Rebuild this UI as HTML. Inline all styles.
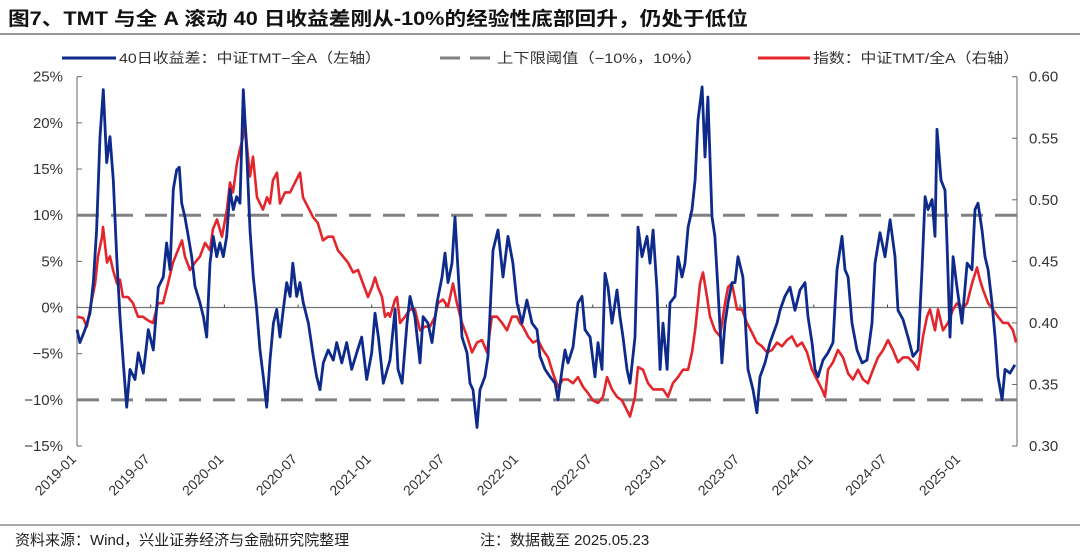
<!DOCTYPE html>
<html><head><meta charset="utf-8"><style>
html,body{margin:0;padding:0;background:#fff;}
body{width:1080px;height:549px;overflow:hidden;font-family:"Liberation Sans","Noto Sans CJK SC",sans-serif;}
</style></head><body>
<svg id="chart" width="1080" height="549" viewBox="0 0 1080 549" xmlns="http://www.w3.org/2000/svg" font-family="Liberation Sans, Noto Sans CJK SC, sans-serif">
<text x="8" y="25" font-size="19" font-weight="bold" fill="#111" textLength="740" lengthAdjust="spacingAndGlyphs">图7、TMT 与全 A 滚动 40 日收益差刚从-10%的经验性底部回升，仍处于低位</text>
<line x1="0" y1="34" x2="1080" y2="34" stroke="#777" stroke-width="1.5"/>
<g font-size="14" fill="#333">
<line x1="62" y1="58" x2="116" y2="58" stroke="#0e2b8c" stroke-width="3"/>
<text x="119" y="63" textLength="262" lengthAdjust="spacingAndGlyphs">40日收益差：中证TMT−全A（左轴）</text>
<line x1="440" y1="58" x2="494" y2="58" stroke="#808080" stroke-width="3" stroke-dasharray="20,10"/>
<text x="497" y="63" textLength="205" lengthAdjust="spacingAndGlyphs">上下限阈值（−10%，10%）</text>
<line x1="758" y1="58" x2="810" y2="58" stroke="#e3262b" stroke-width="3"/>
<text x="813" y="63" textLength="206" lengthAdjust="spacingAndGlyphs">指数：中证TMT/全A（右轴）</text>
</g>
<g id="plot"></g>
<line x1="0" y1="525" x2="1080" y2="525" stroke="#555" stroke-width="1"/>
<text x="15" y="545" font-size="15" fill="#222">资料来源：Wind，兴业证券经济与金融研究院整理</text>
<text x="480" y="545" font-size="15" fill="#222">注：数据截至 2025.05.23</text>
</svg>
<script>
// months since 2019-01-01 and values
const blueMonths=[0,0.24,0.65,1.06,1.33,1.6,1.87,2.14,2.42,2.69,2.96,3.23,3.5,3.77,4.05,4.32,4.72,4.99,5.4,5.81,6.21,6.62,7.03,7.3,7.57,7.84,8.12,8.33,8.53,8.79,9.06,9.34,9.61,10.02,10.29,10.56,10.83,11.1,11.38,11.64,11.91,12.19,12.46,12.73,13.0,13.27,13.54,13.82,14.09,14.36,14.63,14.9,15.17,15.45,15.72,15.99,16.26,16.53,16.8,17.08,17.35,17.57,17.89,18.16,18.43,18.84,19.24,19.52,19.79,20.06,20.46,20.87,21.15,21.56,21.96,22.37,22.78,23.18,23.59,24.0,24.27,24.54,24.94,25.49,25.9,26.14,26.47,26.87,27.12,27.52,27.93,28.18,28.58,28.91,29.32,29.72,29.97,30.21,30.54,30.78,31.03,31.35,31.76,32.0,32.25,32.57,32.82,33.22,33.47,33.88,34.28,34.69,35.1,35.5,35.83,36.24,36.64,37.05,37.46,37.7,38.11,38.52,38.93,39.17,39.5,39.74,39.98,40.39,40.8,41.12,41.37,41.78,42.18,42.43,42.75,43.0,43.24,43.57,43.97,44.22,44.46,44.79,45.03,45.44,45.68,46.01,46.42,46.66,46.91,47.23,47.48,47.72,48.05,48.29,48.7,48.94,49.27,49.51,49.76,50.08,50.33,50.57,50.9,51.14,51.38,51.71,51.95,52.2,52.52,52.77,53.01,53.34,53.58,53.83,54.23,54.64,55.05,55.37,55.62,56.03,56.43,57.0,57.25,57.65,58.06,58.47,58.88,59.28,59.53,59.85,60.1,60.34,60.75,61.16,61.56,61.89,62.3,62.54,62.79,63.11,63.52,63.93,64.33,64.74,64.98,65.39,65.8,66.21,66.61,66.86,67.26,67.67,68.08,68.49,68.81,69.06,69.3,69.63,69.87,70.03,70.36,70.68,70.85,71.09,71.34,71.66,72.07,72.48,72.88,73.13,73.37,73.7,73.94,74.19,74.51,74.76,75.0,75.33,75.57,75.98,76.38];
const blueValues=[-2.4,-3.8,-2.4,-0.6,2.7,8.4,18.5,23.6,15.7,18.5,13.8,5.5,-1.0,-6.0,-10.8,-6.7,-7.8,-4.9,-7.1,-2.4,-4.6,2.2,3.3,7.0,4.1,12.8,14.9,15.2,11.3,9.8,7.7,5.5,2.3,0.5,-1.0,-3.2,4.8,7.7,5.5,7.0,5.5,7.7,12.8,10.6,12.0,11.3,23.6,16.8,8.4,3.3,-0.2,-4.6,-7.5,-10.8,-5.7,-1.7,-0.2,-3.2,-0.2,2.7,1.2,4.8,1.2,2.7,0.5,-1.7,-5.3,-7.5,-8.9,-6.0,-4.6,-5.7,-3.8,-6.0,-3.8,-6.7,-4.9,-3.2,-7.8,-4.9,-0.6,-3.2,-8.2,-5.7,-0.2,-6.7,-8.2,-1.7,1.2,-1.0,-6.0,-1.0,-1.7,-3.8,0.5,3.3,5.9,2.7,4.8,9.8,4.1,-3.2,-4.9,-8.2,-8.9,-13.0,-8.9,-7.5,-5.3,6.2,8.4,3.3,7.7,4.8,0.5,-1.7,0.8,-1.7,-2.4,-5.3,-6.7,-7.5,-8.2,-10.0,-6.7,-4.6,-6.0,-4.3,0.5,1.2,-2.4,-3.2,-7.5,-3.8,-6.7,3.7,2.2,-1.7,1.9,-1.0,-3.2,-6.7,-8.2,-3.2,8.7,5.5,7.7,4.8,8.4,1.9,-6.7,-1.7,-6.7,0.5,1.2,5.5,3.3,4.8,8.7,10.6,13.8,20.3,23.9,16.3,22.8,9.8,7.7,1.9,-6.0,-1.7,0.5,2.7,2.7,5.5,3.3,-6.7,-8.9,-11.4,-7.5,-6.0,-3.8,-1.7,-0.3,1.2,2.2,-0.3,1.9,2.7,-1.0,-3.8,-6.7,-7.5,-5.7,-4.9,-3.8,4.1,7.7,4.1,3.3,-1.7,-4.6,-6.0,-5.7,-1.7,4.8,8.1,5.5,9.5,5.5,-0.3,-1.3,-3.2,-5.3,-4.6,4.1,12.0,10.6,11.7,7.7,19.3,13.8,12.7,7.0,-3.2,5.5,2.2,-1.7,4.8,4.1,10.6,11.3,8.4,5.5,4.1,0.5,-3.2,-7.5,-10.0,-6.7,-7.1,-6.2];
const redMonths=[0,0.49,0.81,1.06,1.47,1.71,2.04,2.12,2.44,2.69,2.93,3.26,3.5,3.75,4.15,4.56,4.97,5.37,5.78,6.19,6.6,7.0,7.41,7.82,8.22,8.55,8.79,9.2,9.61,10.02,10.42,10.83,11.07,11.4,11.81,12.21,12.46,12.7,13.03,13.27,13.52,13.6,13.84,14.09,14.33,14.66,14.9,15.15,15.47,15.72,15.96,16.29,16.53,16.94,17.35,17.75,18.16,18.4,18.81,19.22,19.62,20.03,20.44,20.85,21.25,21.66,22.07,22.48,22.88,23.29,23.7,24.02,24.27,24.51,24.84,25.08,25.33,25.49,25.9,26.06,26.3,26.71,27.12,27.52,27.93,28.34,28.75,29.15,29.4,29.8,30.21,30.62,30.94,31.35,31.76,32.17,32.57,32.98,33.39,33.79,34.2,34.61,35.02,35.42,35.83,36.07,36.32,36.73,37.13,37.54,37.95,38.36,38.76,39.17,39.58,39.98,40.39,40.8,41.21,41.61,42.02,42.43,42.83,43.16,43.57,43.97,44.38,44.79,45.03,45.44,45.68,46.09,46.5,46.91,47.31,47.72,48.13,48.53,48.94,49.35,49.76,50.08,50.33,50.57,50.73,50.98,51.3,51.55,51.95,52.36,52.77,53.01,53.34,53.75,54.15,54.56,54.97,55.37,55.78,56.19,56.6,57.0,57.41,57.82,58.22,58.63,59.04,59.45,59.85,60.26,60.67,60.91,61.16,61.56,61.97,62.38,62.79,63.19,63.6,64.01,64.41,64.82,65.23,65.64,66.04,66.45,66.86,67.26,67.67,68.08,68.49,68.89,69.22,69.46,69.87,70.11,70.52,70.93,71.34,71.66,72.07,72.48,72.88,73.29,73.53,73.78,74.19,74.59,75.0,75.41,75.81,76.22,76.47];
const redValues=[0.405,0.404,0.397,0.411,0.432,0.454,0.470,0.478,0.449,0.454,0.443,0.432,0.435,0.421,0.421,0.416,0.405,0.405,0.402,0.400,0.416,0.416,0.432,0.449,0.459,0.467,0.454,0.443,0.449,0.454,0.465,0.459,0.476,0.484,0.470,0.492,0.514,0.506,0.530,0.541,0.551,0.575,0.543,0.519,0.535,0.502,0.497,0.492,0.502,0.497,0.516,0.522,0.497,0.506,0.506,0.514,0.522,0.502,0.494,0.486,0.481,0.467,0.470,0.470,0.459,0.454,0.449,0.441,0.443,0.432,0.421,0.429,0.437,0.429,0.421,0.405,0.408,0.405,0.419,0.421,0.400,0.405,0.411,0.411,0.394,0.397,0.397,0.405,0.416,0.419,0.413,0.432,0.416,0.400,0.389,0.376,0.384,0.386,0.376,0.405,0.405,0.400,0.394,0.405,0.405,0.400,0.397,0.389,0.384,0.386,0.378,0.372,0.359,0.348,0.354,0.354,0.351,0.356,0.348,0.343,0.337,0.335,0.340,0.356,0.346,0.340,0.337,0.329,0.324,0.340,0.364,0.362,0.351,0.346,0.346,0.346,0.340,0.351,0.356,0.362,0.362,0.376,0.394,0.416,0.432,0.441,0.421,0.405,0.394,0.389,0.416,0.429,0.432,0.411,0.411,0.400,0.392,0.384,0.381,0.376,0.378,0.384,0.381,0.386,0.389,0.381,0.384,0.376,0.362,0.354,0.346,0.340,0.362,0.368,0.378,0.372,0.359,0.354,0.362,0.354,0.351,0.362,0.372,0.378,0.386,0.378,0.368,0.372,0.372,0.368,0.362,0.389,0.405,0.411,0.394,0.411,0.394,0.400,0.411,0.416,0.411,0.416,0.432,0.445,0.435,0.427,0.416,0.411,0.405,0.400,0.400,0.394,0.384];
const thresholdValues=[-10,10];
const leftTicks=[25,20,15,10,5,0,-5,-10,-15];
const rightTicks=[0.60,0.55,0.50,0.45,0.40,0.35,0.30];
const xTickLabels=["2019-01","2019-07","2020-01","2020-07","2021-01","2021-07","2022-01","2022-07","2023-01","2023-07","2024-01","2024-07","2025-01"];
const xTickMonths=[0,6,12,18,24,30,36,42,48,54,60,66,72];

const L=77,R=1017,T=76.7,B=446;
const xS=m=>L+m*12.28;
const yL=v=>T+(25-v)/40*(B-T);
const yR=v=>T+(0.60-v)/0.30*(B-T);
const NS='http://www.w3.org/2000/svg';
const plot=document.getElementById('plot');
function mk(tag,attrs){const e=document.createElementNS(NS,tag);for(const k in attrs)e.setAttribute(k,attrs[k]);plot.appendChild(e);return e;}

let a=mk('line',{x1:L,y1:T,x2:L,y2:B,stroke:'#666','stroke-width':1});


a=mk('line',{x1:R,y1:T,x2:R,y2:B,stroke:'#666','stroke-width':1});


leftTicks.forEach(v=>{
  const y=yL(v);
  const t=mk('line',{x1:L,y1:y,x2:L+5,y2:y,stroke:'#666'});
  
  
  const tx=mk('text',{x:L-14,y:y+5,'text-anchor':'end','font-size':15,fill:'#333'});
  tx.textContent=(v<0?'−'+(-v):v)+'%';
  
  
});
rightTicks.forEach(v=>{
  const y=yR(v);
  const t=mk('line',{x1:R-5,y1:y,x2:R,y2:y,stroke:'#666'});
  
  
  const tx=mk('text',{x:R+12,y:y+5,'font-size':15,fill:'#333'});
  tx.textContent=v.toFixed(2);
  
  
});
const z=mk('line',{x1:L,y1:yL(0),x2:R,y2:yL(0),stroke:'#777','stroke-width':1.2});


xTickMonths.forEach((m,i)=>{
  const x=xS(m);
  const t=mk('line',{x1:x,y1:yL(0)-3,x2:x,y2:yL(0),stroke:'#444'});
  
  
  const tx=mk('text',{x:x,y:460,'text-anchor':'end','font-size':14,fill:'#333',transform:`rotate(-45 ${x} 460)`});
  tx.textContent=xTickLabels[i];
  
  
});
thresholdValues.forEach(v=>{
  const d=mk('line',{x1:L,y1:yL(v),x2:R,y2:yL(v),stroke:'#808080','stroke-width':3,'stroke-dasharray':'22,12'});
  
  
});
function path(ms,vs,ys){return ms.map((m,i)=>(i?'L':'M')+xS(m).toFixed(1)+','+ys(vs[i]).toFixed(1)).join('');}
const rp=mk('path',{d:path(redMonths,redValues,yR),fill:'none',stroke:'#e3262b','stroke-width':2.6,'stroke-linejoin':'round'});


const bp=mk('path',{d:path(blueMonths,blueValues,yL),fill:'none',stroke:'#0e2b8c','stroke-width':2.8,'stroke-linejoin':'round'});


</script>
</body></html>
